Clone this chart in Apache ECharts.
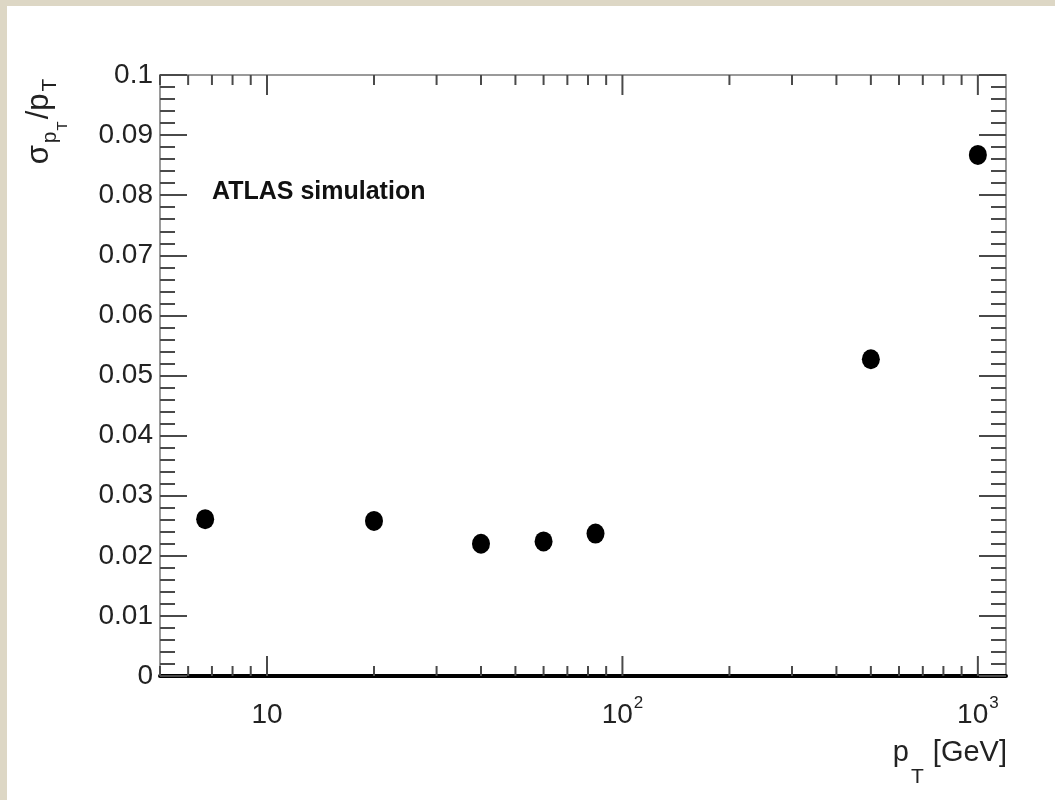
<!DOCTYPE html>
<html>
<head>
<meta charset="utf-8">
<script src="https://cdn.jsdelivr.net/npm/echarts@6/dist/echarts.min.js"></script>
<style>
  html, body { margin: 0; padding: 0; width: 1055px; height: 800px; background: #ddd7c5; overflow: hidden; }
  #chart { position: absolute; left: 7px; top: 6px; width: 1048px; height: 794px; background: #ffffff; }
</style>
</head>
<body>
<div id="chart"></div>
<script>
// ---- data ----
var pT = [6.7, 20, 40, 60, 84, 500, 1000];               // GeV
var resolution = [0.0261, 0.0258, 0.0220, 0.0224, 0.0237, 0.0527, 0.0867]; // sigma_pT / pT
var xMajorTicks = [10, 100, 1000];
var xMinorTicks = [5, 6, 7, 8, 9, 20, 30, 40, 50, 60, 70, 80, 90, 200, 300, 400, 500, 600, 700, 800, 900];
var annotation = 'ATLAS simulation';

var FONT = '"Liberation Sans", Arial, Helvetica, sans-serif';
var TXT = '#222222';
var TICK = '#4a4a4a';
var FRAME = '#9a9a9a';

var chart = echarts.init(document.getElementById('chart'), null, { renderer: 'canvas' });

var tickData = xMajorTicks.map(function (v) { return [v, 1]; })
  .concat(xMinorTicks.map(function (v) { return [v, 0]; }));

function xLabel(v) {
  var e = Math.log10(v);
  var r = Math.round(e);
  if (Math.abs(e - r) > 1e-6) return '';
  if (r === 1) return '{n|10}';
  if (r >= 2) return '{n|10}{sup|' + r + '}';
  return '';
}

var option = {
  animation: false,
  backgroundColor: '#ffffff',
  textStyle: { fontFamily: FONT },
  grid: { left: 153, right: 49, top: 69, bottom: 124, containLabel: false },
  xAxis: [
    {
      type: 'log', logBase: 10, min: 5, max: 1200, position: 'bottom',
      axisLine: { show: true, lineStyle: { color: '#000', width: 4 } },
      axisTick: { show: false },
      minorTick: { show: false },
      splitLine: { show: false },
      axisLabel: {
        show: true, margin: 19, color: TXT, fontFamily: FONT,
        formatter: xLabel,
        rich: {
          n: { fontSize: 28, lineHeight: 28, verticalAlign: 'top', padding: [6, 0, 0, 0], fontFamily: FONT, color: TXT },
          sup: { fontSize: 17, lineHeight: 17, verticalAlign: 'top', padding: [0, 0, 0, 1], fontFamily: FONT, color: TXT }
        }
      }
    },
    {
      type: 'log', logBase: 10, min: 5, max: 1200, position: 'top',
      axisLine: { show: true, onZero: false, lineStyle: { color: FRAME, width: 2 } },
      axisTick: { show: false }, axisLabel: { show: false }, splitLine: { show: false }
    }
  ],
  yAxis: [
    {
      type: 'value', min: 0, max: 0.1, interval: 0.01, position: 'left',
      axisLine: { show: true, lineStyle: { color: FRAME, width: 2 } },
      axisTick: { show: true, inside: true, length: 27, lineStyle: { color: TICK, width: 2 } },
      minorTick: { show: true, splitNumber: 5, length: 15, lineStyle: { color: TICK, width: 2 } },
      splitLine: { show: false },
      axisLabel: { show: true, margin: 7, fontSize: 28, color: TXT, fontFamily: FONT }
    },
    {
      type: 'value', min: 0, max: 0.1, interval: 0.01, position: 'right',
      axisLine: { show: true, lineStyle: { color: FRAME, width: 2 } },
      axisTick: { show: true, inside: true, length: 27, lineStyle: { color: TICK, width: 2 } },
      minorTick: { show: true, splitNumber: 5, length: 15, lineStyle: { color: TICK, width: 2 } },
      splitLine: { show: false },
      axisLabel: { show: false }
    }
  ],
  graphic: [
    {
      type: 'text', x: 205, y: 186,
      style: { text: annotation, font: 'bold 25px ' + FONT, fill: '#111', textAlign: 'left', textVerticalAlign: 'middle' }
    },
    {
      type: 'text', x: 32, y: 115, rotation: Math.PI / 2,
      style: {
        text: '{a|σ}{s|p}{t|T}{a|/p}{s|T}',
        textAlign: 'center', textVerticalAlign: 'middle', fill: TXT,
        rich: {
          a: { fontSize: 31, lineHeight: 31, verticalAlign: 'top', fontFamily: FONT, fill: TXT },
          s: { fontSize: 21, lineHeight: 21, verticalAlign: 'top', padding: [16, 1, 0, 2], fontFamily: FONT, fill: TXT },
          t: { fontSize: 15, lineHeight: 15, verticalAlign: 'top', padding: [32, 2, 0, 0], fontFamily: FONT, fill: TXT }
        }
      }
    },
    {
      type: 'text', x: 1000, y: 732,
      style: {
        text: '{a|p}{s|T}{a| [GeV]}',
        textAlign: 'right', textVerticalAlign: 'top', fill: TXT,
        rich: {
          a: { fontSize: 29, lineHeight: 29, verticalAlign: 'top', fontFamily: FONT, fill: TXT },
          s: { fontSize: 21, lineHeight: 21, verticalAlign: 'top', padding: [29, 1, 0, 2], fontFamily: FONT, fill: TXT }
        }
      }
    }
  ],
  series: [
    {
      type: 'custom',
      xAxisIndex: 0, yAxisIndex: 0,
      silent: true, clip: false,
      data: tickData,
      renderItem: function (params, api) {
        var v = api.value(0);
        var major = api.value(1) === 1;
        var x = api.coord([v, 0])[0];
        var yb = api.coord([v, 0])[1];
        var yt = api.coord([v, 0.1])[1];
        var len = major ? 20 : 10;
        var st = { stroke: TICK, lineWidth: 2 };
        return {
          type: 'group',
          children: [
            { type: 'line', shape: { x1: x, y1: yb, x2: x, y2: yb - len }, style: st },
            { type: 'line', shape: { x1: x, y1: yt, x2: x, y2: yt + len }, style: st }
          ]
        };
      },
      z: 1
    },
    {
      type: 'scatter',
      xAxisIndex: 0, yAxisIndex: 0,
      data: pT.map(function (x, i) { return [x, resolution[i]]; }),
      symbol: 'circle',
      symbolSize: [18, 20],
      itemStyle: { color: '#000000', opacity: 1 },
      z: 5
    }
  ]
};

chart.setOption(option);
</script>
</body>
</html>
